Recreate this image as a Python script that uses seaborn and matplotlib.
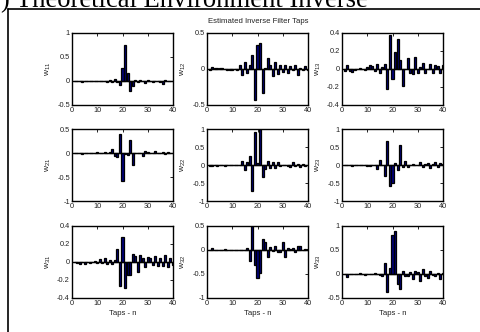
import numpy as np
import pandas as pd
import matplotlib
matplotlib.use("Agg")
import matplotlib.pyplot as plt
import seaborn as sns
from matplotlib.ticker import FuncFormatter
from matplotlib.lines import Line2D

taps = list(range(1, 41))

w11 = [0.01, -0.01, 0.0, -0.02, -0.01, 0.0, -0.01, 0.0, 0.0, 0.0,
       0.0, -0.01, 0.0, -0.02, 0.02, -0.03, 0.04, -0.02, -0.08, 0.27,
       0.75, 0.17, -0.2, -0.1, 0.02, -0.02, 0.02, 0.0, -0.05, 0.02,
       0.0, -0.02, 0.01, 0.01, -0.02, -0.06, 0.03, 0.0, -0.01, 0.01]
w12 = [-0.01, 0.03, 0.02, 0.02, 0.01, 0.02, 0.0, -0.01, -0.01, -0.01,
       0.0, -0.01, 0.05, -0.08, 0.1, -0.05, 0.05, 0.2, -0.43, 0.34,
       0.36, -0.33, 0.02, 0.15, 0.05, -0.1, 0.1, -0.07, 0.06, -0.04,
       0.05, -0.06, 0.04, -0.02, 0.05, -0.09, 0.02, -0.02, 0.04, -0.02]
w13 = [-0.02, 0.04, -0.02, -0.03, -0.01, 0.0, 0.01, 0.0, -0.01, 0.02,
       0.04, 0.03, -0.02, 0.06, -0.04, 0.02, 0.05, -0.22, 0.38, -0.11,
       0.19, 0.33, 0.1, -0.19, 0.0, 0.12, -0.05, -0.06, 0.13, -0.05,
       0.02, 0.07, -0.04, 0.0, 0.05, -0.05, 0.04, 0.03, -0.05, 0.04]
w21 = [0.0, 0.0, -0.01, -0.02, 0.0, -0.01, 0.01, -0.01, 0.0, 0.02,
       -0.01, 0.0, 0.02, -0.01, 0.03, 0.08, -0.07, -0.08, 0.4, -0.58,
       -0.02, -0.05, 0.28, -0.25, 0.0, 0.0, -0.01, -0.07, 0.05, 0.02,
       0.01, 0.01, 0.04, 0.0, -0.01, 0.03, -0.02, 0.02, -0.01, 0.0]
w22 = [-0.02, -0.02, 0.0, -0.02, 0.0, 0.0, -0.02, 0.0, 0.0, 0.01,
       0.0, -0.01, 0.0, 0.12, -0.15, 0.08, 0.25, -0.72, 0.92, 0.05,
       1.0, -0.33, -0.1, 0.1, -0.08, 0.08, -0.07, 0.08, -0.03, -0.01,
       0.0, -0.02, -0.05, 0.07, -0.03, 0.03, -0.05, 0.02, -0.04, 0.0]
w23 = [0.0, 0.01, -0.01, -0.04, 0.0, 0.0, 0.01, 0.0, 0.0, -0.02,
       -0.02, 0.0, 0.0, -0.1, 0.13, 0.0, -0.3, 0.67, -0.57, -0.5,
       0.05, -0.13, 0.55, -0.05, 0.1, -0.05, 0.0, 0.02, 0.0, 0.0,
       0.07, -0.05, 0.04, 0.06, -0.07, 0.02, 0.07, -0.05, 0.05, 0.02]
w31 = [0.0, -0.01, -0.02, 0.0, -0.02, 0.0, -0.01, 0.0, 0.01, -0.01,
       0.03, -0.01, 0.04, -0.02, 0.02, -0.02, 0.02, 0.15, -0.27, 0.28,
       -0.29, -0.14, -0.14, 0.09, 0.07, -0.11, 0.08, 0.05, -0.06, 0.06,
       0.05, -0.03, 0.07, -0.04, 0.05, -0.04, 0.08, -0.05, 0.04, -0.03]
w32 = [0.0, 0.05, 0.0, 0.01, 0.0, -0.01, 0.03, 0.01, 0.0, 0.01,
       0.0, -0.01, 0.0, 0.01, 0.0, 0.05, -0.22, 0.5, -0.32, -0.58,
       -0.47, 0.23, 0.17, -0.15, 0.07, -0.02, 0.08, -0.04, -0.05, 0.16,
       -0.15, 0.05, 0.03, 0.04, -0.05, 0.08, 0.09, 0.0, 0.03, 0.02]
w33 = [0.0, -0.06, 0.0, -0.01, 0.01, 0.0, 0.03, 0.01, -0.02, 0.0,
       0.01, -0.01, 0.02, 0.0, -0.02, -0.05, 0.23, -0.38, 0.12, 0.82,
       0.9, -0.2, -0.32, 0.07, -0.05, -0.05, 0.05, -0.1, 0.07, 0.05,
       -0.15, 0.1, -0.05, -0.08, 0.06, -0.03, -0.05, 0.03, -0.1, 0.02]

series = [w11, w12, w13, w21, w22, w23, w31, w32, w33]
labels = ["11", "12", "13", "21", "22", "23", "31", "32", "33"]
yticks_list = [
    [-0.5, 0, 0.5, 1], [-0.5, 0, 0.5], [-0.4, -0.2, 0, 0.2, 0.4],
    [-1, -0.5, 0, 0.5], [-1, -0.5, 0, 0.5, 1], [-1, -0.5, 0, 0.5, 1],
    [-0.4, -0.2, 0, 0.2, 0.4], [-1, -0.5, 0, 0.5], [-0.5, 0, 0.5, 1],
]
xticks = [0, 10, 20, 30, 40]
main_title = ") Theoretical Environment Inverse"
sub_title = "Estimated Inverse Filter Taps"
xlabel = "Taps - n"

sns.set_style("white")
plt.rcParams["font.family"] = ["Liberation Sans", "DejaVu Sans"]
plt.rcParams["axes.unicode_minus"] = False
plt.rcParams["mathtext.fontset"] = "custom"
plt.rcParams["mathtext.it"] = "Liberation Sans"
plt.rcParams["mathtext.rm"] = "Liberation Sans"

W, H = 481, 332
fig = plt.figure(figsize=(W / 100, H / 100), dpi=100)
fig.patch.set_facecolor("white")

col_left = [72, 207, 342]
row_top = [33, 129, 226]
aw, ah = 101, 72

# outer frame (left and top edges)
fig.add_artist(Line2D([8 / W, 8 / W], [0, 1 - 9 / H], color="black", lw=1.2,
                      transform=fig.transFigure))
fig.add_artist(Line2D([8 / W, 1], [1 - 9 / H, 1 - 9 / H], color="black", lw=1.2,
                      transform=fig.transFigure))

fig.text(368 / W, 1 - 7 / H, main_title, family="Liberation Serif",
         fontsize=19.2, ha="right", va="baseline", color="black")
fig.text(258 / W, 1 - 23 / H, sub_title, fontsize=5.6, ha="center",
         va="baseline", color="#222222")

fmt = FuncFormatter(lambda v, p: ("%g" % v))

for i, (vals, lab, yt) in enumerate(zip(series, labels, yticks_list)):
    r, c = divmod(i, 3)
    left = col_left[c] / W
    bottom = 1 - (row_top[r] + ah) / H
    ax = fig.add_axes([left, bottom, aw / W, ah / H])
    df = pd.DataFrame({"n": taps, "w": vals})
    sns.barplot(data=df, x="n", y="w", native_scale=True, width=0.8,
                color="#00007a", edgecolor="black", linewidth=0.9,
                saturation=1, errorbar=None, ax=ax)
    ax.axhline(0, color="black", lw=1.0, zorder=3)
    ax.set_xlim(0, 40)
    ax.set_ylim(yt[0], yt[-1])
    ax.set_xticks(xticks)
    ax.set_yticks(yt)
    ax.xaxis.set_major_formatter(fmt)
    ax.yaxis.set_major_formatter(fmt)
    ax.tick_params(direction="in", length=2.5, width=0.6, top=True,
                   right=True, labelsize=5.3, pad=1.5, colors="black",
                   labelcolor="#222222")
    for s in ax.spines.values():
        s.set_visible(True)
        s.set_color("black")
        s.set_linewidth(1.0)
    ax.set_ylabel(r"$w_{%s}$" % lab, fontsize=6, labelpad=3, color="#222222")
    if r == 2:
        ax.set_xlabel(xlabel, fontsize=5.6, labelpad=2, color="#222222")
    else:
        ax.set_xlabel("")

fig.savefig("out.png", dpi=100, facecolor="white")
